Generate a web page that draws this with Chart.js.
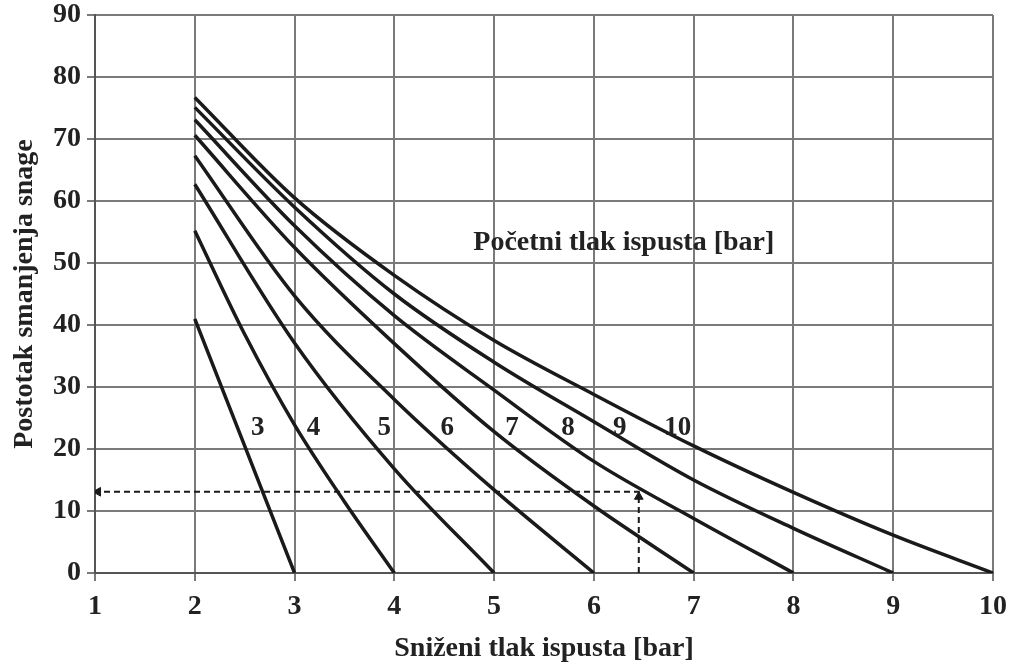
<!DOCTYPE html>
<html>
<head>
<meta charset="utf-8">
<script src="https://cdn.jsdelivr.net/npm/chart.js@4"></script>
<style>
	html, body { margin: 0; padding: 0; background: #fff; }
	#wrap { width: 1016px; height: 666px; }
</style>
</head>
<body>
<div id="wrap"><canvas id="chart" width="1016" height="666"></canvas></div>
<script>
// reduced outlet pressure [bar] on the x axis, one curve per initial pressure
const reducedPressure = [2, 3, 4, 5, 6, 7, 8, 9, 10];
const curve10 = [76.7, 60.5, 48, 37.5, 28.8, 20.5, 13, 6.1, 0];
const curve9 = [75.1, 59, 45, 34, 24.4, 15, 7.2, 0];
const curve8 = [73.1, 56, 41.5, 29.5, 18, 8.8, 0];
const curve7 = [70.6, 52.5, 37, 22.8, 10.8, 0];
const curve6 = [67.3, 44.7, 28, 13.4, 0];
const curve5 = [62.7, 37.1, 16.8, 0];
// the two steepest curves are read at half steps
const curve4X = [2, 2.5, 3, 3.5, 4];
const curve4 = [55.2, 38.5, 23.9, 11.5, 0];
const curve3X = [2, 2.5, 3];
const curve3 = [41, 20.5, 0];

// example reading (dashed arrows)
const exampleX = [6.45, 6.45, 1];
const exampleY = [0, 13.1, 13.1];

// curve labels
const curveNames = ['3', '4', '5', '6', '7', '8', '9', '10'];
const curveNameX = [2.63, 3.19, 3.9, 4.53, 5.18, 5.74, 6.26, 6.84];
const curveNameY = 23.4;

const toPoints = (xs, ys) => ys.map((y, i) => ({ x: xs[i], y }));

const curveStyle = {
	borderColor: '#1a1a1a',
	borderWidth: 3.5,
	pointRadius: 0,
	fill: false,
	cubicInterpolationMode: 'monotone'
};

const curves = [
	toPoints(curve3X, curve3),
	toPoints(curve4X, curve4),
	toPoints(reducedPressure, curve5),
	toPoints(reducedPressure, curve6),
	toPoints(reducedPressure, curve7),
	toPoints(reducedPressure, curve8),
	toPoints(reducedPressure, curve9),
	toPoints(reducedPressure, curve10)
].map(data => Object.assign({ data }, curveStyle));

const font = 'Liberation Serif';
const textColor = '#222';

// draws curve numbers and the legend text in data coordinates
const textPlugin = {
	id: 'curveText',
	afterDatasetsDraw(chart) {
		const { ctx, scales: { x, y } } = chart;
		ctx.save();
		ctx.fillStyle = textColor;
		ctx.textAlign = 'center';
		ctx.textBaseline = 'middle';
		ctx.font = 'bold 27px "' + font + '"';
		curveNames.forEach((name, i) => {
			ctx.fillText(name, x.getPixelForValue(curveNameX[i]), y.getPixelForValue(curveNameY));
		});
		ctx.font = 'bold 28px "' + font + '"';
		ctx.fillText('Početni tlak ispusta [bar]', x.getPixelForValue(6.3), y.getPixelForValue(53.2));
		ctx.restore();
	}
};

new Chart(document.getElementById('chart'), {
	type: 'line',
	data: {
		datasets: curves.concat([
			{
				data: toPoints(exampleX, exampleY),
				borderColor: '#1a1a1a',
				borderWidth: 2,
				borderDash: [6, 4],
				pointRadius: 0,
				fill: false
			},
			{
				// arrow heads
				data: [{ x: exampleX[1], y: exampleY[1] - 0.8 }, { x: exampleX[2] + 0.03, y: exampleY[2] }],
				showLine: false,
				pointStyle: 'triangle',
				pointRadius: 5,
				rotation: [0, 270],
				pointBackgroundColor: '#1a1a1a',
				pointBorderColor: '#1a1a1a'
			}
		])
	},
	options: {
		responsive: false,
		animation: false,
		layout: { padding: { top: 15, right: 23, bottom: 0, left: 0 } },
		plugins: {
			legend: { display: false },
			tooltip: { enabled: false }
		},
		scales: {
			x: {
				type: 'linear',
				min: 1,
				max: 10,
				ticks: {
					stepSize: 1,
					color: textColor,
					padding: 9,
					font: { family: font, size: 28, weight: 'bold' }
				},
				grid: { color: '#7a7a7a', lineWidth: 2, tickLength: 8 },
				border: { color: '#555', width: 2 },
				title: {
					display: true,
					text: 'Sniženi tlak ispusta [bar]',
					color: textColor,
					font: { family: font, size: 28, weight: 'bold' },
					padding: { top: 4, bottom: 0 }
				},
				afterFit(scale) { scale.height = 93; }
			},
			y: {
				min: 0,
				max: 90,
				ticks: {
					stepSize: 10,
					color: textColor,
					padding: 6,
					font: { family: font, size: 28, weight: 'bold' }
				},
				grid: { color: '#7a7a7a', lineWidth: 2, tickLength: 8 },
				border: { color: '#555', width: 2 },
				title: {
					display: true,
					text: 'Postotak smanjenja snage',
					color: textColor,
					font: { family: font, size: 28, weight: 'bold' },
					padding: { top: 8, bottom: 0 }
				},
				afterFit(scale) {
					scale.width = 95;
					scale.paddingTop = 0;
					scale.paddingBottom = 0;
				}
			}
		}
	},
	plugins: [textPlugin]
});
</script>
</body>
</html>
